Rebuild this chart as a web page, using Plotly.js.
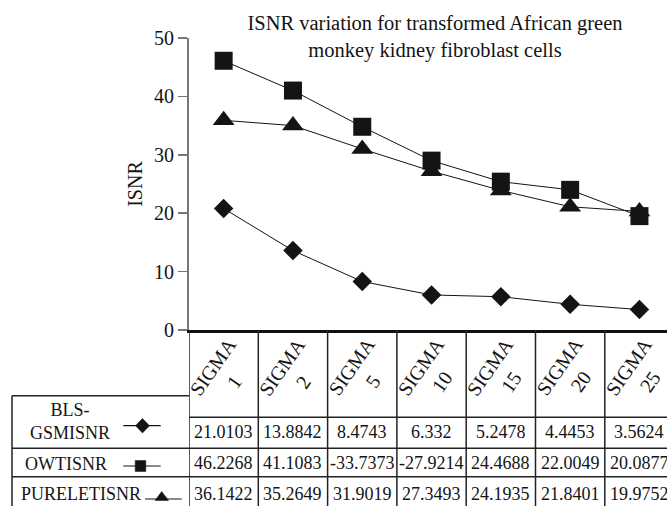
<!DOCTYPE html>
<html><head><meta charset="utf-8">
<script src="https://cdn.plot.ly/plotly-3.0.1.min.js"></script>
<style>html,body{margin:0;padding:0;background:#fff;overflow:hidden}</style>
</head><body><div id="chart" style="width:667px;height:506px"></div>
<script>
// ---- data ----
const categories = ['SIGMA 1','SIGMA 2','SIGMA 5','SIGMA 10','SIGMA 15','SIGMA 20','SIGMA 25'];
const seriesNames = ['BLS-GSMISNR','OWTISNR','PURELETISNR'];
const blsValues = [20.8, 13.6, 8.3, 6.0, 5.7, 4.4, 3.5];
const owtValues = [46.1, 41.0, 34.8, 29.0, 25.4, 24.0, 19.5];
const pureletValues = [35.9, 35.0, 31.0, 27.2, 23.9, 21.1, 20.3];
const blsTable = ['21.0103','13.8842','8.4743','6.332','5.2478','4.4453','3.5624'];
const owtTable = ['46.2268','41.1083','-33.7373','-27.9214','24.4688','22.0049','20.0877'];
const pureletTable = ['36.1422','35.2649','31.9019','27.3493','24.1935','21.8401','19.9752'];
const yTicks = [0,10,20,30,40,50];

// ---- geometry ----
const W = 667, H = 506, L = 189, R = 0, T = 38, B = 176;
const pw = W - L - R, ph = H - T - B;
const colW = 69.3;
const fx = p => (p - L) / pw;          // pixel x -> paper
const fy = p => (H - B - p) / ph;      // pixel y -> paper
const FONT = "'Liberation Serif', 'DejaVu Serif', serif";
const INK = '#141414';

function trace(vals, name, symbol, size) {
  return {x: categories, y: vals, name: name, type: 'scatter', mode: 'lines+markers',
    line: {color: INK, width: 1}, marker: {symbol: symbol, size: size, color: INK},
    cliponaxis: false, showlegend: false};
}
const data = [
  trace(blsValues, seriesNames[0], 'diamond', 15),
  trace(owtValues, seriesNames[1], 'square', 18),
  trace(pureletValues, seriesNames[2], 'triangle-up', 19)
];

const shapes = [];
const ann = [];
const lineCol = '#222';
// column separators
for (let i = 0; i < categories.length; i++) {
  shapes.push({type: 'line', xref: 'x', yref: 'paper', x0: i - 0.5, x1: i - 0.5,
    y0: fy(330), y1: fy(512), line: {color: lineCol, width: 1.5}});
}
// header bottom
shapes.push({type: 'line', xref: 'paper', yref: 'paper', x0: fx(189), x1: fx(670), y0: fy(417.3), y1: fy(417.3), line: {color: lineCol, width: 1.5}});
// left legend box
shapes.push({type: 'line', xref: 'paper', yref: 'paper', x0: fx(12), x1: fx(189), y0: fy(395.7), y1: fy(395.7), line: {color: lineCol, width: 1.5}});
shapes.push({type: 'line', xref: 'paper', yref: 'paper', x0: fx(12), x1: fx(12), y0: fy(395.7), y1: fy(512), line: {color: lineCol, width: 1.5}});
[448.3, 476.7].forEach(yy => shapes.push({type: 'line', xref: 'paper', yref: 'paper', x0: fx(12), x1: fx(670), y0: fy(yy), y1: fy(yy), line: {color: lineCol, width: 1.5}}));

// header labels
categories.forEach((c, i) => {
  ann.push({xref: 'x', yref: 'paper', x: c, y: fy(374), text: c.replace(' ', '<br>'), textangle: -55,
    showarrow: false, font: {family: FONT, size: 20, color: INK}, xanchor: 'center', yanchor: 'middle'});
});
// table values
const rows = [blsTable, owtTable, pureletTable];
const rowY = [432, 463.5, 493.5];
rows.forEach((r, k) => r.forEach((v, i) => {
  ann.push({xref: 'x', yref: 'paper', x: categories[i], y: fy(rowY[k]), text: v, showarrow: false,
    font: {family: FONT, size: 18, color: INK}, xanchor: 'center', yanchor: 'middle'});
}));
// legend labels
ann.push({xref: 'paper', yref: 'paper', x: fx(70), y: fy(421.5), text: 'BLS-<br>GSMISNR', showarrow: false, font: {family: FONT, size: 18, color: INK}, xanchor: 'center', yanchor: 'middle'});
ann.push({xref: 'paper', yref: 'paper', x: fx(66), y: fy(464), text: 'OWTISNR', showarrow: false, font: {family: FONT, size: 18, color: INK}, xanchor: 'center', yanchor: 'middle'});
ann.push({xref: 'paper', yref: 'paper', x: fx(81), y: fy(494), text: 'PURELETISNR', showarrow: false, font: {family: FONT, size: 18, color: INK}, xanchor: 'center', yanchor: 'middle'});
// legend keys (line + symbol)
function keyLine(x0, x1, y) {
  shapes.push({type: 'line', xref: 'paper', yref: 'paper', x0: fx(x0), x1: fx(x1), y0: fy(y), y1: fy(y), line: {color: INK, width: 1.2}});
}
function keyPath(pts) {
  const d = 'M' + pts.map(p => fx(p[0]) + ',' + fy(p[1])).join(' L') + ' Z';
  shapes.push({type: 'path', xref: 'paper', yref: 'paper', path: d, fillcolor: INK, line: {color: INK, width: 0.5}});
}
keyLine(123.3, 160.7, 425.7);
keyPath([[142.5, 418.5], [149.5, 425.7], [142.5, 433], [135.5, 425.7]]);
keyLine(123.3, 160.7, 466);
keyPath([[135.2, 460.5], [145.8, 460.5], [145.8, 471.5], [135.2, 471.5]]);
keyLine(145, 181.7, 499);
keyPath([[161.7, 491.5], [168.5, 500.5], [155, 500.5]]);

const layout = {
  width: W, height: H,
  margin: {l: L, r: R, t: T, b: B, pad: 0},
  paper_bgcolor: '#fff', plot_bgcolor: '#fff',
  font: {family: FONT, color: INK},
  title: {text: 'ISNR variation for transformed African green<br>monkey kidney fibroblast cells',
    font: {family: FONT, size: 20.5, color: INK}, xref: 'container', x: 435 / W, xanchor: 'center',
    yref: 'container', y: 1 - 30 / H, yanchor: 'top'},
  xaxis: {type: 'category', range: [-0.5, -0.5 + pw / colW], showticklabels: false, ticks: '',
    showgrid: false, zeroline: false, showline: true, linecolor: '#111', linewidth: 2.5, fixedrange: true},
  yaxis: {range: [0, 50], tickvals: yTicks, ticks: 'outside', ticklen: 9, tickwidth: 1.5, tickcolor: '#777',
    showline: true, linecolor: '#777', linewidth: 2, showgrid: false, zeroline: false,
    tickfont: {family: FONT, size: 20, color: INK},
    title: {text: 'ISNR', font: {family: FONT, size: 20, color: INK}, standoff: 6}},
  shapes: shapes,
  annotations: ann,
  showlegend: false
};
Plotly.newPlot('chart', data, layout, {displayModeBar: false, staticPlot: true});
</script></body></html>
